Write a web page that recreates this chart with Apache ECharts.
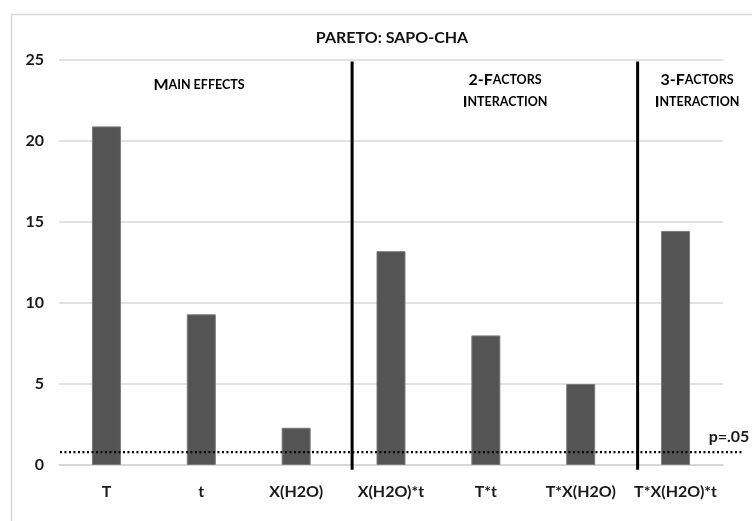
<!DOCTYPE html>
<html>
<head>
<meta charset="utf-8">
<script src="https://cdn.jsdelivr.net/npm/echarts@6/dist/echarts.min.js"></script>
<style>html,body{margin:0;padding:0;background:#fff}#c{width:752px;height:521px}</style>
</head>
<body>
<div id="c"></div>
<script>
var categories = ['T', 't', 'X(H2O)', 'X(H2O)*t', 'T*t', 'T*X(H2O)', 'T*X(H2O)*t'];
var effects = [20.9, 9.3, 2.3, 13.2, 8.0, 5.0, 14.45];
var yTicks = [0, 5, 10, 15, 20, 25];
var pThreshold = 0.8;
var dividerAt = [3.09, 6.10];          // in category units from the left edge
var dividerSpan = [-0.3, 24.9];

var FONT = 'Lato';
var chart = echarts.init(document.getElementById('c'), null, {renderer: 'canvas'});

var overX = 7 * (752 - 9 - 59) / (752 - 29 - 59);

var series = [{
  type: 'bar', xAxisIndex: 0, yAxisIndex: 0,
  data: effects, barWidth: 29,
  itemStyle: {color: '#545454', borderColor: '#7a7a7a', borderWidth: 1},
  silent: true
}, {
  type: 'line', xAxisIndex: 1, yAxisIndex: 1,
  data: [[0.01, pThreshold], [overX, pThreshold]],
  symbol: 'none', silent: true, z: 5,
  lineStyle: {color: '#000', width: 2.2, type: [2, 2.5]}
}];
dividerAt.forEach(function (x) {
  series.push({
    type: 'line', xAxisIndex: 1, yAxisIndex: 1, clip: false,
    data: [[x, dividerSpan[0]], [x, dividerSpan[1]]],
    symbol: 'none', silent: true, z: 6,
    lineStyle: {color: '#000', width: 3}
  });
});

function sc(big, small) { return '{b|' + big + '}{s|' + small + '}'; }
var rich = {
  b: {fontFamily: FONT, fontWeight: 'bold', fontSize: 16, color: '#222'},
  s: {fontFamily: FONT, fontWeight: 'bold', fontSize: 12.5, color: '#222'}
};

chart.setOption({
  animation: false,
  title: {
    text: 'PARETO: SAPO-CHA', left: 387, top: 25, textAlign: 'center',
    textStyle: {fontFamily: FONT, fontWeight: 'bold', fontSize: 16, color: '#111'}
  },
  grid: [
    {left: 59, right: 29, top: 60, bottom: 56},
    {left: 59, right: 9, top: 60, bottom: 56}
  ],
  xAxis: [{
    type: 'category', gridIndex: 0, data: categories,
    axisLine: {lineStyle: {color: '#d4d4d4', width: 1.5}},
    axisTick: {show: false},
    axisLabel: {interval: 0, margin: 19, fontFamily: FONT, fontWeight: 'bold', fontSize: 16, color: '#1a1a1a'}
  }, {
    type: 'value', gridIndex: 1, min: 0, max: overX, show: false
  }],
  yAxis: [{
    type: 'value', gridIndex: 0, min: 0, max: 25, interval: 5,
    axisLine: {show: false}, axisTick: {show: false},
    axisLabel: {margin: 15, fontFamily: FONT, fontWeight: 'bold', fontSize: 16, color: '#1a1a1a',
      formatter: function (v) { return yTicks.indexOf(v) >= 0 ? String(v) : ''; }},
    splitLine: {lineStyle: {color: '#d9d9d9', width: 1.5}}
  }, {
    type: 'value', gridIndex: 1, min: 0, max: 25, show: false
  }],
  graphic: [
    {type: 'rect', left: 9, top: 12, shape: {width: 800, height: 600}, silent: true, z: -10,
      style: {fill: 'none', stroke: '#d6d6d6', lineWidth: 1.5}},
    {type: 'text', x: 199, y: 85, silent: true,
      style: {text: sc('M', 'AIN EFFECTS'), rich: rich, align: 'center', verticalAlign: 'middle'}},
    {type: 'text', x: 505, y: 91, silent: true,
      style: {text: sc('2-F', 'ACTORS') + '\n' + sc('I', 'NTERACTION'), rich: rich, align: 'center', verticalAlign: 'middle', lineHeight: 22}},
    {type: 'text', x: 697, y: 91, silent: true,
      style: {text: sc('3-F', 'ACTORS') + '\n' + sc('I', 'NTERACTION'), rich: rich, align: 'center', verticalAlign: 'middle', lineHeight: 22}},
    {type: 'text', x: 729, y: 437, silent: true,
      style: {text: 'p=.05', fontFamily: FONT, fontWeight: 'bold', fontSize: 16, fill: '#1a1a1a', align: 'center', verticalAlign: 'middle'}}
  ],
  series: series
});
</script>
</body>
</html>
